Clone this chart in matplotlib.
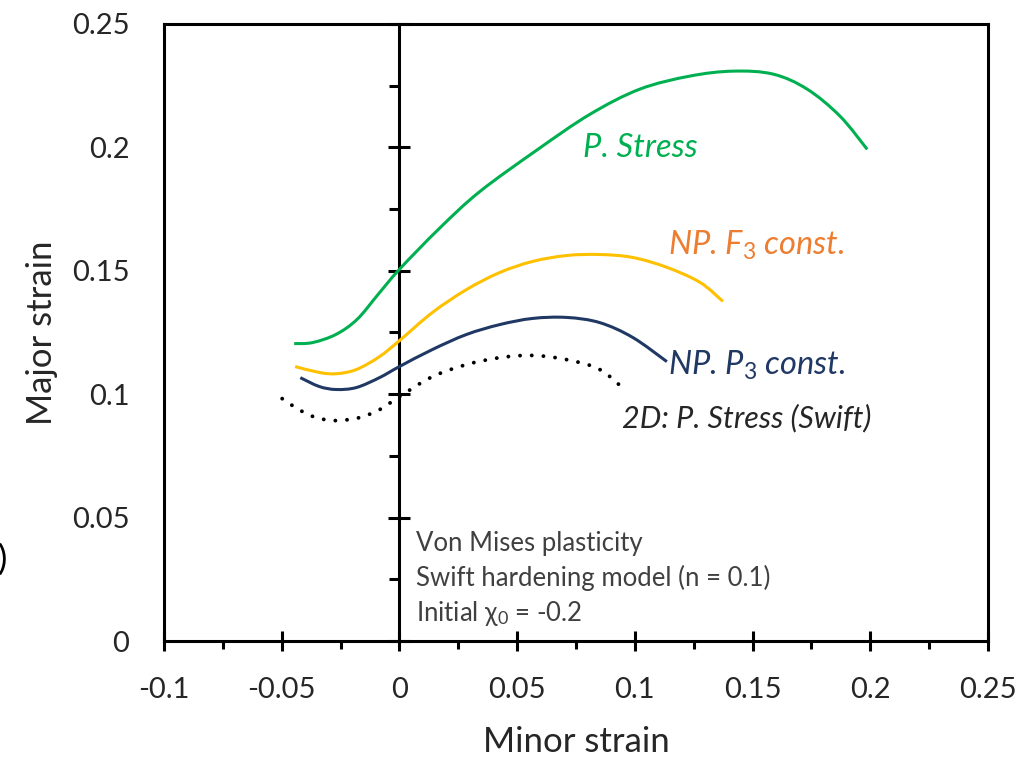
import matplotlib
matplotlib.use("Agg")
import numpy as np
import matplotlib.pyplot as plt
from matplotlib.path import Path
from matplotlib.patches import PathPatch
from matplotlib.ticker import MultipleLocator, FuncFormatter

plt.rcParams['font.family'] = ['Lato', 'DejaVu Sans']
plt.rcParams['mathtext.fontset'] = 'custom'
plt.rcParams['mathtext.rm'] = 'Lato'
plt.rcParams['mathtext.it'] = 'Lato:italic'

# Forming limit curves (minor strain, major strain)
ps_minor = [-0.0447, -0.037, -0.027, -0.018, -0.009, 0.0, 0.017, 0.034, 0.0585,
            0.0809, 0.1021, 0.1234, 0.1417, 0.1587, 0.1732, 0.1872, 0.1987]
ps_major = [0.1205, 0.1209, 0.1242, 0.1303, 0.1405, 0.1506, 0.1672, 0.1820, 0.1990,
            0.2134, 0.2236, 0.2289, 0.2309, 0.2297, 0.2236, 0.2126, 0.1992]

f3_minor = [-0.0443, -0.034, -0.0268, -0.0183, -0.0085, 0.0, 0.014, 0.0285, 0.0426,
            0.0566, 0.0711, 0.0851, 0.0991, 0.1136, 0.1277, 0.1374]
f3_major = [0.1112, 0.1088, 0.1083, 0.1100, 0.1152, 0.1217, 0.1331, 0.1424, 0.1493,
            0.1538, 0.1562, 0.1566, 0.1554, 0.1514, 0.1453, 0.1376]

p3_minor = [-0.0421, -0.034, -0.0268, -0.0183, -0.0085, 0.0, 0.014, 0.0285, 0.0426,
            0.0566, 0.0711, 0.0851, 0.0991, 0.1136]
p3_major = [0.1067, 0.1031, 0.1019, 0.1027, 0.1067, 0.1112, 0.1181, 0.1242, 0.1282,
            0.1307, 0.1311, 0.1290, 0.1230, 0.1132]

sw_minor = [-0.0498, -0.0426, -0.0353, -0.0268, -0.017, -0.0085, 0.0, 0.014, 0.0285,
            0.0426, 0.0566, 0.0711, 0.0851, 0.0966]
sw_major = [0.0982, 0.0937, 0.0905, 0.0893, 0.0905, 0.0937, 0.0990, 0.1071, 0.1120,
            0.1148, 0.1157, 0.1140, 0.1100, 0.1010]

x_ticks = [-0.1, -0.05, 0, 0.05, 0.1, 0.15, 0.2, 0.25]
y_ticks = [0, 0.05, 0.1, 0.15, 0.2, 0.25]

GREEN = '#00B050'
YELLOW = '#FFC000'
NAVY = '#203864'
ORANGE = '#ED7D31'
DARK = '#262626'
GRAY = '#404040'


def fmt(v, pos=None):
    if abs(v) < 1e-12:
        return '0'
    return '%g' % round(v, 4)


def smooth_path(xs, ys):
    """Cubic Bezier path through every point (smoothed scatter line)."""
    pts = np.column_stack([xs, ys]).astype(float)
    n = len(pts)
    verts = [pts[0]]
    codes = [Path.MOVETO]
    for i in range(n - 1):
        p0 = pts[i - 1] if i > 0 else pts[i]
        p1 = pts[i]
        p2 = pts[i + 1]
        p3 = pts[i + 2] if i + 2 < n else pts[i + 1]
        verts += [p1 + (p2 - p0) / 6.0, p2 - (p3 - p1) / 6.0, p2]
        codes += [Path.CURVE4] * 3
    return Path(verts, codes)


fig = plt.figure(figsize=(10.23, 7.58), dpi=100)
rect = [164 / 1023, 1 - 641 / 758, (988 - 164) / 1023, (641 - 24) / 758]

# Label axes: carries the frame's left edge and the y tick labels
axl = fig.add_axes(rect)
axl.set_xlim(-0.1, 0.25)
axl.set_ylim(0, 0.25)
axl.set_yticks(y_ticks)
axl.yaxis.set_major_formatter(FuncFormatter(fmt))
axl.tick_params(axis='y', length=0, pad=25, labelsize=21, labelcolor=DARK)
axl.set_xticks([])
axl.tick_params(axis='x', bottom=False, labelbottom=False)
for s in ('top', 'right', 'bottom'):
    axl.spines[s].set_visible(False)
axl.spines['left'].set_linewidth(2.2)
axl.set_ylabel('Major strain', fontsize=25, color=DARK, labelpad=10)
axl.patch.set_visible(False)

# Main axes: curves, bottom/top/right frame and the vertical axis at x = 0
ax = fig.add_axes(rect)
ax.patch.set_visible(False)
ax.set_xlim(-0.1, 0.25)
ax.set_ylim(0, 0.25)
ax.spines['left'].set_position(('data', 0))
for s in ax.spines.values():
    s.set_linewidth(2.2)
ax.set_xticks(x_ticks)
ax.xaxis.set_major_formatter(FuncFormatter(fmt))
ax.xaxis.set_minor_locator(MultipleLocator(0.025))
ax.yaxis.set_minor_locator(MultipleLocator(0.025))
ax.set_yticks(y_ticks)
ax.tick_params(axis='x', which='major', direction='inout', length=14.4, width=2.2,
               labelsize=21, labelcolor=DARK, pad=19)
ax.tick_params(axis='x', which='minor', direction='out', length=5.8, width=2.2)
ax.tick_params(axis='y', which='major', direction='inout', length=15.8, width=2.2,
               labelleft=False)
ax.tick_params(axis='y', which='minor', direction='out', length=7.2, width=2.2)
ax.tick_params(top=False, right=False)
ax.set_xlabel('Minor strain', fontsize=25, color=DARK, labelpad=16)

curves = [
    (ps_minor, ps_major, GREEN),
    (f3_minor, f3_major, YELLOW),
    (p3_minor, p3_major, NAVY),
]
for xs, ys, col in curves:
    ax.add_patch(PathPatch(smooth_path(xs, ys), fill=False, edgecolor=col,
                           lw=2.2, capstyle='butt', zorder=3))

dotted = PathPatch(smooth_path(sw_minor, sw_major), fill=False, edgecolor='black',
                   lw=2.8, linestyle=(0, (0.01, 3.0)), zorder=3)
dotted.set_capstyle('round')
ax.add_patch(dotted)

ax.text(0.0779, 0.1960, 'P. Stress', color=GREEN, fontsize=23.5, style='italic')
ax.text(0.1140, 0.1566, r'NP. $\mathit{F}_{\mathit{3}}$ const.', color=ORANGE,
        fontsize=23.5, style='italic')
ax.text(0.1140, 0.1079, r'NP. $\mathit{P}_{\mathit{3}}$ const.', color=NAVY,
        fontsize=23.5, style='italic')
ax.text(0.0945, 0.0864, '2D: P. Stress (Swift)', color=DARK, fontsize=22,
        style='italic')

ax.text(0.0070, 0.0365, 'Von Mises plasticity', color=GRAY, fontsize=18.5)
ax.text(0.0070, 0.0223, 'Swift hardening model (n = 0.1)', color=GRAY, fontsize=18.5)
ax.text(0.0070, 0.0081, r'Initial χ$_{0}$ = -0.2', color=GRAY, fontsize=18.5)

fig.text(-2 / 1023, 1 - 560 / 758, ')', fontsize=25, color='black',
         ha='left', va='center')

fig.savefig('out.png', dpi=100)
